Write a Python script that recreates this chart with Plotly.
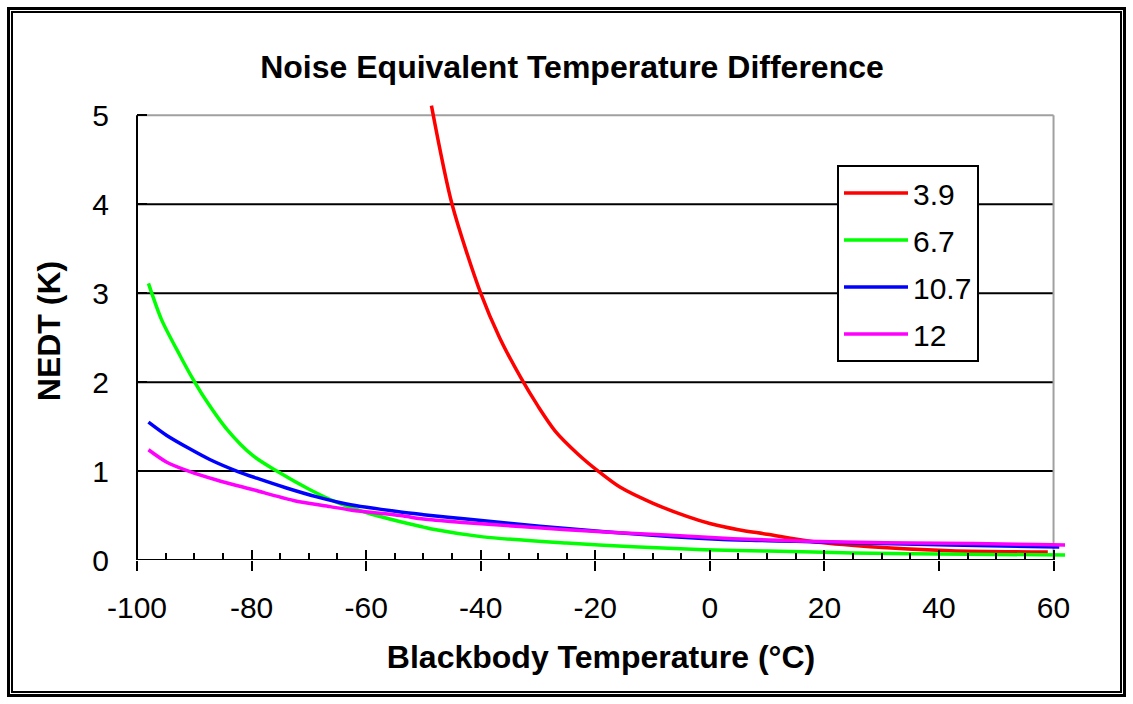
import plotly.graph_objects as go

# ---- data ----
t_39 = [-48.6, -45, -40, -36.7, -33, -30, -27, -23, -19.5, -15.7, -10, -4, 0, 5, 10, 17.5, 28, 42, 59]
v_39 = [5.11, 4.0, 3.0, 2.5, 2.05, 1.73, 1.45, 1.19, 1.0, 0.82, 0.64, 0.49, 0.41, 0.34, 0.29, 0.21, 0.15, 0.105, 0.09]

t_67 = [-98, -95.7, -92.5, -90.2, -88.7, -84.3, -79.7, -75.6, -69.8, -65.2, -59.3, -54, -50, -48.3,
        -39.6, -25, -13.4, -1, 10, 25, 45, 62]
v_67 = [3.11, 2.70, 2.30, 2.03, 1.87, 1.47, 1.17, 1.0, 0.79, 0.65, 0.52, 0.43, 0.37, 0.345,
        0.26, 0.19, 0.15, 0.115, 0.10, 0.08, 0.065, 0.056]

t_107 = [-98, -94.8, -90.8, -87.3, -82.6, -79.1, -73.9, -68.6, -63.4, -54, -50, -42.5, -29.7, -6.4, 2.3, 15, 25, 42, 61]
v_107 = [1.55, 1.40, 1.25, 1.13, 1.00, 0.92, 0.81, 0.71, 0.63, 0.54, 0.51, 0.46, 0.38, 0.26, 0.23, 0.21, 0.19, 0.17, 0.145]

t_12 = [-98, -94.8, -91, -86.1, -79.7, -72.7, -66.3, -62.5, -54, -50, -42.5, -25, -7.6, 4.1, 17, 26, 35, 46, 57, 62]
v_12 = [1.24, 1.10, 1.0, 0.90, 0.79, 0.67, 0.60, 0.56, 0.50, 0.46, 0.42, 0.34, 0.28, 0.24, 0.21, 0.20, 0.19, 0.185, 0.175, 0.17]

series_names = ["3.9", "6.7", "10.7", "12"]
series_colors = ["#FF0000", "#00FF00", "#0000FF", "#FF00FF"]
series_t = [t_39, t_67, t_107, t_12]
series_v = [v_39, v_67, v_107, v_12]

x_ticks = [-100, -80, -60, -40, -20, 0, 20, 40, 60]
y_ticks = [0, 1, 2, 3, 4, 5]

title_text = "Noise Equivalent Temperature Difference"
x_title = "Blackbody Temperature (°C)"
y_title = "NEDT (K)"

# ---- layout geometry ----
W, H = 1133, 704
ML, MR, MT, MB = 137, 68, 102, 144
PW, PH = W - ML - MR, H - MT - MB
FONT = "Liberation Sans, Arial, sans-serif"
X_MIN, X_MAX = x_ticks[0], x_ticks[-1]
Y_MIN, Y_MAX = y_ticks[0], y_ticks[-1]


def px_x(px):
    return (px - ML) / PW


def px_y(py):
    return (H - MB - py) / PH


fig = go.Figure()
for name, col, t, v in zip(series_names, series_colors, series_t, series_v):
    fig.add_trace(go.Scatter(x=t, y=v, mode="lines", name=name, legendgroup=name,
                             line=dict(color=col, width=3.5, shape="spline", smoothing=0.8),
                             hoverinfo="skip"))
# helper trace so the overlay axis (inside part of major ticks) is drawn
fig.add_trace(go.Scatter(x=[], y=[], xaxis="x2", showlegend=False, hoverinfo="skip"))

shapes = []
# horizontal grid lines between the frame edges
for gv in y_ticks[1:-1]:
    shapes.append(dict(type="line", xref="x", yref="y", x0=X_MIN, x1=X_MAX, y0=gv, y1=gv,
                       line=dict(color="black", width=2), layer="between"))
# plot frame: left & bottom black, top & right gray
shapes.append(dict(type="line", xref="x", yref="y", x0=X_MIN, x1=X_MAX, y0=Y_MAX, y1=Y_MAX,
                   line=dict(color="#A0A0A0", width=2), layer="between"))
shapes.append(dict(type="line", xref="x", yref="y", x0=X_MAX, x1=X_MAX, y0=Y_MIN, y1=Y_MAX,
                   line=dict(color="#A0A0A0", width=2), layer="between"))
shapes.append(dict(type="line", xref="paper", yref="y", x0=0, x1=0, y0=Y_MIN, y1=Y_MAX,
                   line=dict(color="black", width=2), layer="above"))
shapes.append(dict(type="line", xref="x", yref="y", x0=X_MIN, x1=X_MAX, y0=Y_MIN, y1=Y_MIN,
                   line=dict(color="black", width=2), layer="above"))
# outer double border of the chart
shapes.append(dict(type="rect", xref="paper", yref="paper",
                   x0=px_x(8.5), x1=px_x(W - 8.5), y0=px_y(H - 8.5), y1=px_y(8.5),
                   line=dict(color="black", width=3)))
shapes.append(dict(type="rect", xref="paper", yref="paper",
                   x0=px_x(12), x1=px_x(W - 12), y0=px_y(H - 12), y1=px_y(12),
                   line=dict(color="black", width=2)))

fig.update_layout(
    width=W, height=H, autosize=False,
    margin=dict(l=ML, r=MR, t=MT, b=MB, pad=0),
    paper_bgcolor="white", plot_bgcolor="white",
    font=dict(family=FONT, size=30, color="black"),
    title=dict(text="<b>" + title_text + "</b>", x=572 / W, xref="container",
               y=1 - 67 / H, yref="container", xanchor="center", yanchor="middle",
               font=dict(family=FONT, size=32, color="black")),
    xaxis=dict(range=[X_MIN, 62], tickvals=x_ticks, ticktext=[str(v) for v in x_ticks],
               showgrid=False, zeroline=False, showline=False,
               ticks="outside", ticklen=10, tickwidth=2, tickcolor="black",
               minor=dict(ticks="inside", dtick=5, tick0=X_MIN, ticklen=7, tickwidth=2,
                          tickcolor="black", showgrid=False),
               tickfont=dict(family=FONT, size=30, color="black"),
               ticklabelstandoff=11,
               title=dict(text="<b>" + x_title + "</b>", standoff=22,
                          font=dict(family=FONT, size=32, color="black"))),
    xaxis2=dict(range=[X_MIN, 62], overlaying="x", anchor="y", side="bottom",
                tickvals=x_ticks, showticklabels=False, showgrid=False, zeroline=False,
                showline=False, ticks="inside", ticklen=10, tickwidth=2, tickcolor="black"),
    yaxis=dict(range=[Y_MIN, 5.15], tickvals=y_ticks, ticktext=[str(v) for v in y_ticks],
               showgrid=False, zeroline=False, showline=False,
               ticks="inside", ticklen=10, tickwidth=2, tickcolor="black",
               tickfont=dict(family=FONT, size=30, color="black"),
               ticklabelstandoff=27,
               title=dict(text="<b>" + y_title + "</b>", standoff=22,
                          font=dict(family=FONT, size=32, color="black"))),
    legend=dict(x=px_x(837), y=px_y(165), xanchor="left", yanchor="top",
                bgcolor="white", bordercolor="black", borderwidth=2,
                font=dict(family=FONT, size=30, color="black"),
                tracegroupgap=5, itemwidth=64),
    shapes=shapes,
    showlegend=True,
)

fig.write_html("out.html")
